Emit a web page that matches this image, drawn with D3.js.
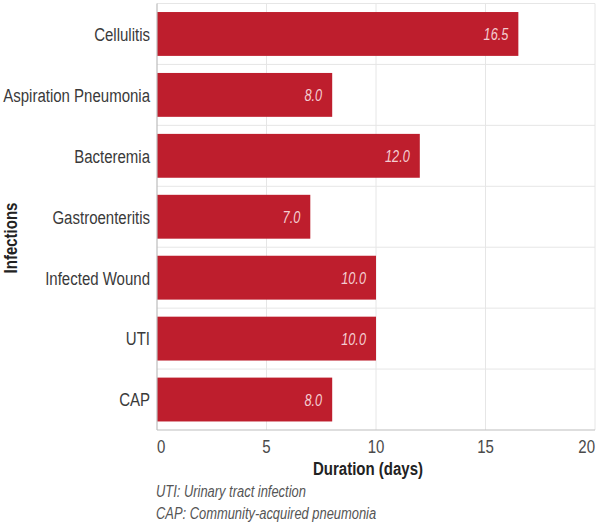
<!DOCTYPE html>
<html>
<head>
<meta charset="utf-8">
<script src="https://cdn.jsdelivr.net/npm/d3@7/dist/d3.min.js"></script>
<style>
  html, body { margin: 0; padding: 0; background: #fff; }
  svg { display: block; }
  text { font-family: "Liberation Sans", Arial, sans-serif; }
</style>
</head>
<body>
<svg id="chart" width="600" height="529"></svg>
<script>
const categories = ["Cellulitis", "Aspiration Pneumonia", "Bacteremia", "Gastroenteritis", "Infected Wound", "UTI", "CAP"];
const durations = [16.5, 8.0, 12.0, 7.0, 10.0, 10.0, 8.0];
const xTicks = [0, 5, 10, 15, 20];
const xTitle = "Duration (days)";
const yTitle = "Infections";
const footnotes = ["UTI: Urinary tract infection", "CAP: Community-acquired pneumonia"];

const svg = d3.select("#chart");
const mLeft = 157, mRight = 595, mTop = 3.5, mBottom = 430;
const SX = 0.79; // horizontal condensing of the text

const x = d3.scaleLinear().domain([0, 20]).range([mLeft, mRight]);
const y = d3.scaleBand().domain(categories).range([mTop, mBottom])
  .paddingInner(0.28).paddingOuter(0.14);

const tr = (px, py, sx) => `translate(${px},${py}) scale(${sx},1)`;

// vertical gridlines
svg.append("g").selectAll("line").data(xTicks.filter(d => d > 0)).join("line")
  .attr("x1", d => x(d)).attr("x2", d => x(d))
  .attr("y1", mTop).attr("y2", mBottom)
  .attr("stroke", "#e6e6e6").attr("stroke-width", 1);

// horizontal gridlines at band boundaries
const step = y.step();
const hLines = d3.range(categories.length).map(i => mTop + i * step);
svg.append("g").selectAll("line").data(hLines).join("line")
  .attr("x1", mLeft).attr("x2", mRight)
  .attr("y1", d => d).attr("y2", d => d)
  .attr("stroke", "#e6e6e6").attr("stroke-width", 1);

// bars
svg.append("g").selectAll("rect").data(durations).join("rect")
  .attr("x", x(0))
  .attr("y", (d, i) => y(categories[i]))
  .attr("width", d => x(d) - x(0))
  .attr("height", y.bandwidth())
  .attr("fill", "#be1e2d");

// value labels
svg.append("g").selectAll("text").data(durations).join("text")
  .attr("transform", (d, i) => tr(x(d) - 10, y(categories[i]) + y.bandwidth() / 2, 0.75))
  .attr("dy", "0.36em")
  .attr("text-anchor", "end")
  .attr("font-size", 17)
  .attr("font-style", "italic")
  .attr("fill", "#f4cdd1")
  .text(d => d.toFixed(1));

// axes lines
svg.append("line").attr("x1", mLeft).attr("x2", mLeft).attr("y1", mTop).attr("y2", mBottom)
  .attr("stroke", "#bdbdbd").attr("stroke-width", 1.2);
svg.append("line").attr("x1", mLeft).attr("x2", mRight).attr("y1", mBottom).attr("y2", mBottom)
  .attr("stroke", "#bdbdbd").attr("stroke-width", 1.2);

// category labels
svg.append("g").selectAll("text").data(categories).join("text")
  .attr("transform", d => tr(mLeft - 7, y(d) + y.bandwidth() / 2, SX))
  .attr("dy", "0.36em")
  .attr("text-anchor", "end")
  .attr("font-size", 19)
  .attr("fill", "#3a3a3a")
  .text(d => d);

// x tick labels
svg.append("g").selectAll("text").data(xTicks).join("text")
  .attr("transform", d => tr(x(d), 453, SX))
  .attr("text-anchor", (d, i) => i === 0 ? "start" : (i === xTicks.length - 1 ? "end" : "middle"))
  .attr("font-size", 19)
  .attr("fill", "#4a4a4a")
  .text(d => d);

// axis titles
svg.append("text").attr("transform", tr(368, 475, SX))
  .attr("text-anchor", "middle").attr("font-size", 19).attr("font-weight", "bold")
  .attr("fill", "#222").text(xTitle);

svg.append("text").attr("transform", `translate(17,238) rotate(-90) scale(${SX},1)`)
  .attr("text-anchor", "middle").attr("font-size", 19).attr("font-weight", "bold")
  .attr("fill", "#222").text(yTitle);

// footnotes
svg.append("g").selectAll("text").data(footnotes).join("text")
  .attr("transform", (d, i) => tr(156, 497 + i * 22, 0.76))
  .attr("font-size", 17)
  .attr("font-style", "italic")
  .attr("fill", "#555")
  .text(d => d);
</script>
</body>
</html>
